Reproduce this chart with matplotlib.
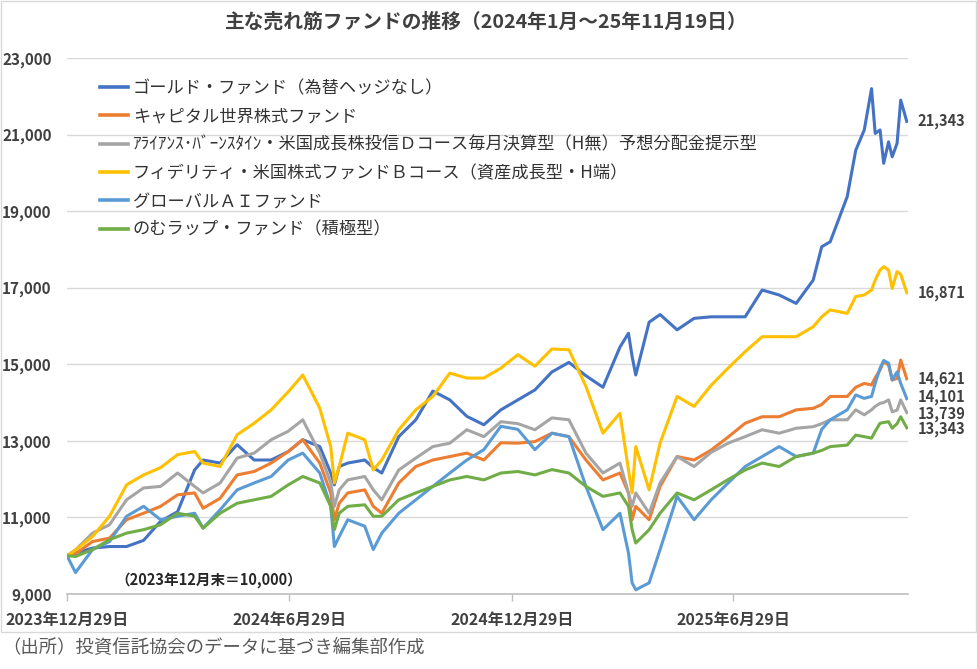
import matplotlib
matplotlib.use("Agg")
import matplotlib.pyplot as plt
import pandas as pd
from matplotlib.patches import Rectangle
from matplotlib.ticker import FuncFormatter

plt.rcParams["font.family"] = ["Noto Sans CJK JP", "DejaVu Sans"]

# --- data (index, 2023/12 end = 10,000) ---
dates = [
    "2023-12-29", "2024-01-05", "2024-01-19", "2024-02-02", "2024-02-16",
    "2024-03-01", "2024-03-15", "2024-03-29", "2024-04-12", "2024-04-19",
    "2024-05-03", "2024-05-17", "2024-05-31", "2024-06-14", "2024-06-28",
    "2024-07-10", "2024-07-24", "2024-08-02", "2024-08-05", "2024-08-09",
    "2024-08-16", "2024-08-30", "2024-09-06", "2024-09-13", "2024-09-27",
    "2024-10-11", "2024-10-25", "2024-11-08", "2024-11-22", "2024-12-06",
    "2024-12-20", "2025-01-03", "2025-01-17", "2025-01-31", "2025-02-14",
    "2025-02-28", "2025-03-14", "2025-03-28", "2025-04-04", "2025-04-07",
    "2025-04-10", "2025-04-21", "2025-04-30", "2025-05-14", "2025-05-28",
    "2025-06-11", "2025-06-25", "2025-07-09", "2025-07-23", "2025-08-06",
    "2025-08-20", "2025-09-03", "2025-09-10", "2025-09-17", "2025-10-01",
    "2025-10-08", "2025-10-15", "2025-10-21", "2025-10-24", "2025-10-28",
    "2025-10-31", "2025-11-04", "2025-11-07", "2025-11-11", "2025-11-14",
    "2025-11-19",
]

gold = [
    10000, 10070, 10200, 10240, 10240, 10400, 10900, 11150, 12240, 12500,
    12420, 12900, 12500, 12500, 12720, 13030, 12850, 12160, 11850, 12330,
    12420, 12500, 12300, 12160, 13110, 13550, 14300, 14070, 13640, 13420,
    13810, 14070, 14330, 14800, 15050, 14700, 14400, 15450, 15810, 15200,
    14720, 16100, 16300, 15900, 16200, 16240, 16240, 16240, 16940, 16810,
    16590, 17200, 18070, 18200, 19380, 20590, 21120, 22200, 21030, 21120,
    20250, 20810, 20420, 20770, 21900, 21343,
]

capital = [
    10000, 10050, 10370, 10460, 10940, 11110, 11290, 11590, 11640, 11240,
    11500, 12110, 12200, 12420, 12720, 13030, 12420, 11640, 10940, 11370,
    11640, 11720, 11290, 11110, 11900, 12330, 12500, 12590, 12680, 12500,
    12950, 12940, 12980, 13200, 13110, 12500, 11980, 12160, 11640, 10940,
    11290, 10940, 11810, 12590, 12500, 12760, 13100, 13460, 13630, 13630,
    13810, 13850, 13950, 14160, 14160, 14400, 14500, 14460, 14650, 14850,
    15070, 14980, 14590, 14630, 15110, 14621,
]

alliance = [
    10000, 10150, 10590, 10810, 11460, 11770, 11810, 12160, 11810, 11640,
    11900, 12550, 12680, 13030, 13250, 13550, 12680, 11900, 11290, 11720,
    11980, 12070, 11720, 11460, 12240, 12550, 12850, 12940, 13290, 13110,
    13500, 13450, 13290, 13600, 13550, 12680, 12160, 12420, 11640, 11290,
    11640, 11110, 11900, 12590, 12330, 12700, 12940, 13110, 13290, 13200,
    13330, 13370, 13450, 13550, 13550, 13810, 13680, 13810, 13900, 13980,
    14000, 14070, 13760, 13800, 14070, 13739,
]

fidelity = [
    10000, 10150, 10500, 11030, 11850, 12110, 12300, 12640, 12720, 12420,
    12330, 13160, 13460, 13810, 14280, 14720, 13850, 12850, 11900, 12330,
    13200, 13030, 12240, 12500, 13290, 13810, 14160, 14770, 14640, 14640,
    14900, 15250, 14950, 15400, 15380, 14420, 13200, 13720, 12240, 11640,
    12850, 11720, 12940, 14160, 13900, 14450, 14900, 15330, 15720, 15720,
    15720, 15980, 16240, 16420, 16330, 16770, 16810, 16940, 17200, 17460,
    17550, 17460, 16980, 17420, 17350, 16871,
]

global_ai = [
    10000, 9560, 10160, 10370, 11030, 11290, 10940, 11030, 11110, 10720,
    11200, 11720, 11900, 12070, 12500, 12680, 12160, 11290, 10240, 10500,
    10940, 10770, 10160, 10590, 11110, 11460, 11810, 12160, 12500, 12770,
    13380, 13300, 12770, 13200, 13110, 11810, 10680, 11110, 10070, 9290,
    9110, 9290, 10160, 11550, 10940, 11460, 11900, 12330, 12590, 12850,
    12590, 12680, 13300, 13550, 13810, 14200, 14110, 14160, 14500, 14900,
    15100, 15030, 14590, 14800, 14500, 14101,
]

nomu_wrap = [
    10000, 9980, 10160, 10420, 10590, 10680, 10810, 11110, 11030, 10720,
    11110, 11370, 11460, 11550, 11850, 12070, 11900, 11290, 10680, 11110,
    11290, 11330, 11030, 11030, 11460, 11640, 11810, 11980, 12070, 11980,
    12160, 12200, 12110, 12250, 12160, 11810, 11550, 11640, 11290, 10680,
    10330, 10680, 11110, 11640, 11460, 11720, 11990, 12240, 12420, 12330,
    12590, 12680, 12750, 12850, 12890, 13150, 13110, 13070, 13250, 13460,
    13480, 13500, 13330, 13450, 13630, 13343,
]

labels = [
    "ゴールド・ファンド（為替ヘッジなし）",
    "キャピタル世界株式ファンド",
    "ｱﾗｲｱﾝｽ･ﾊﾞｰﾝｽﾀｲﾝ・米国成長株投信Ｄコース毎月決算型（H無）予想分配金提示型",
    "フィデリティ・米国株式ファンドＢコース（資産成長型・H端）",
    "グローバルＡＩファンド",
    "のむラップ・ファンド（積極型）",
]
colors = ["#4472C4", "#ED7D31", "#A5A5A5", "#FFC000", "#5B9BD5", "#70AD47"]
series = [gold, capital, alliance, fidelity, global_ai, nomu_wrap]

tick_dates = ["2023-12-29", "2024-06-29", "2024-12-29", "2025-06-29"]
tick_labels = ["2023年12月29日", "2024年6月29日", "2024年12月29日", "2025年6月29日"]

# small vertical nudges (points) so the end labels do not collide
end_nudge = [0, 0, -1, 0, 1.5, -1]

# --- figure ---
W, H = 977, 669
fig = plt.figure(figsize=(W / 100, H / 100), dpi=100)
ax = fig.add_axes([67 / W, 1 - 594 / H, (908 - 67) / W, (594 - 58) / H])

x = pd.to_datetime(dates)
for vals, col, lab in zip(series, colors, labels):
    ax.plot(x, vals, color=col, lw=2.2, label=lab, solid_joinstyle="round")

ax.set_ylim(9000, 23000)
ax.set_xlim(pd.Timestamp("2023-12-29"), pd.Timestamp("2025-11-20"))
ax.set_yticks(range(9000, 23001, 2000))
ax.yaxis.set_major_formatter(FuncFormatter(lambda v, p: f"{int(v):,}"))
ax.set_xticks(pd.to_datetime(tick_dates))
ax.set_xticklabels(tick_labels)

ax.grid(axis="y", color="#D9D9D9", lw=1)
ax.set_axisbelow(True)
for s in ["top", "right", "left"]:
    ax.spines[s].set_visible(False)
ax.spines["bottom"].set_color("#BFBFBF")
ax.spines["bottom"].set_linewidth(1.2)

ax.tick_params(axis="y", length=0, pad=11, labelsize=11, labelcolor="#404040")
ax.tick_params(axis="x", length=5, width=1, color="#BFBFBF", pad=8,
               labelsize=11.5, labelcolor="#404040")
for t in ax.get_xticklabels() + ax.get_yticklabels():
    t.set_fontweight("bold")

# end-value labels
for vals, dy in zip(series, end_nudge):
    ax.annotate(f"{vals[-1]:,}", xy=(x[-1], vals[-1]), xytext=(8, dy),
                textcoords="offset points", va="center", ha="left",
                fontsize=10.5, fontweight="bold", color="#404040",
                annotation_clip=False)

leg = ax.legend(loc="upper left", bbox_to_anchor=(100 / W, 1 - 79 / H),
                bbox_transform=fig.transFigure, frameon=False,
                fontsize=12.4, handlelength=1.6, handletextpad=0.3,
                labelspacing=0.6, borderpad=0, borderaxespad=0)
for t in leg.get_texts():
    t.set_color("#333333")
for h in leg.get_lines():
    h.set_linewidth(2.6)

fig.text(486 / W, 1 - 22 / H, "主な売れ筋ファンドの推移（2024年1月～25年11月19日）",
         ha="center", va="center", fontsize=14.2, fontweight="bold", color="#404040")
fig.text(115 / W, 1 - 580 / H, "（2023年12月末＝10,000）",
         ha="left", va="center", fontsize=10.5, fontweight="bold", color="#262626")
fig.text(2 / W, 1 - 648 / H, "（出所）投資信託協会のデータに基づき編集部作成",
         ha="left", va="center", fontsize=13.2, color="#595959")

# chart area border
fig.patches.append(Rectangle((1 / W, 1 - 632 / H), 975 / W, 631 / H,
                             transform=fig.transFigure, fill=False,
                             edgecolor="#D9D9D9", lw=1))

fig.savefig("out.png", dpi=100)
plt.close(fig)
